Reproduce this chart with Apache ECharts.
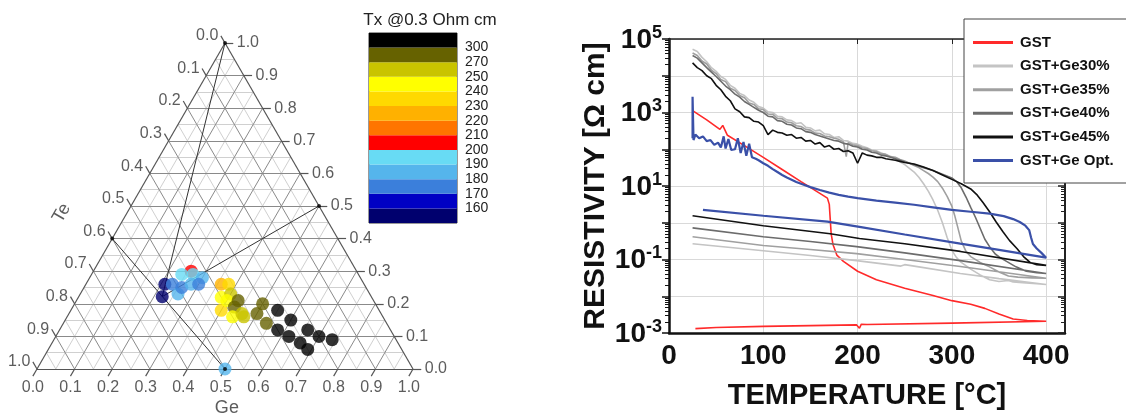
<!DOCTYPE html>
<html><head><meta charset="utf-8">
<script src="https://cdn.jsdelivr.net/npm/echarts@6/dist/echarts.min.js"></script>
<style>html,body{margin:0;padding:0;background:#fff}#c{width:1126px;height:416px}</style>
</head><body><div id="c"></div>
<script>
// ================= DATA =================
// --- Ternary diagram (fractions of Ge and Te; Sb = 1 - Ge - Te), Tx in °C
const ternGe = [0.26,0.21,0.222,0.23,0.24,0.26,0.26,0.27,0.30,0.28,0.30,0.50,
                0.36,0.38,0.38,0.40,0.40,0.40,0.43,0.43,0.44,0.46,0.47,
                0.50,0.50,0.54,
                0.55,0.60,0.58,0.62,0.66,0.70,0.66,0.69,0.74];
const ternTe = [0.44,0.53,0.556,0.51,0.47,0.51,0.49,0.44,0.42,0.46,0.44,0.50,
                0.38,0.36,0.40,0.42,0.37,0.39,0.36,0.38,0.40,0.37,0.37,
                0.30,0.33,0.32,
                0.27,0.25,0.30,0.28,0.22,0.20,0.26,0.25,0.17];
const ternTx = [205,155,155,175,195,185,175,195,185,185,175,185,
                225,235,245,235,260,245,285,285,245,260,260,
                285,285,285,
                320,320,320,320,320,320,320,320,320];
// reference compounds: Sb, Sb2Te3, GeSb, GeTe
const refGe = [0, 0, 0.5, 0.5];
const refTe = [0, 0.6, 0, 0.5];
// GST (Ge2Sb2Te5)
const gstGe = 0.222, gstTe = 0.556;
const ternTicks = ['0.0','0.1','0.2','0.3','0.4','0.5','0.6','0.7','0.8','0.9','1.0'];
// colour bar
const cbLabels = ['160','170','180','190','200','210','220','230','240','250','270','300'];
const cbColors = ['#00006e','#0000c4','#3b7fdb','#55b5ec','#68dbf4','#ff0000','#ff7500','#ffb100','#ffd900','#ffff00','#c9c400','#666200','#000000'];

// --- Resistivity vs temperature: [T (°C), log10(resistivity / Ohm cm)]
const gstCurve = [[25,3.05],[40,2.80],[54,2.54],[57,2.65],[62,2.38],[80,2.10],[100,1.78],[120,1.45],[140,1.12],[160,0.80],[168,0.67],
  [170,0.50],[171,0.10],[172,-0.30],[174,-0.60],[178,-0.88],[185,-1.05],[200,-1.32],[220,-1.55],[250,-1.78],[280,-1.98],[300,-2.12],
  [320,-2.22],[335,-2.33],[350,-2.48],[365,-2.62],[380,-2.66],[400,-2.68],
  [300,-2.73],[210,-2.77],[204,-2.76],[202,-2.87],[199,-2.78],[150,-2.80],[100,-2.82],[50,-2.85],[28,-2.88]];
const ge30Curve = [[25,4.72],[30,4.66],[35,4.50],[40,4.38],[45,4.22],[50,4.12],[55,3.98],[60,3.90],[65,3.74],[70,3.66],[75,3.52],[80,3.46],
  [85,3.34],[90,3.28],[95,3.16],[100,3.12],[105,3.02],[110,3.00],[115,2.90],[120,2.88],[125,2.80],[130,2.78],[135,2.70],[140,2.72],
  [145,2.60],[150,2.58],[155,2.50],[160,2.52],[165,2.42],[170,2.40],[175,2.32],[180,2.34],[185,2.24],[190,2.22],[195,2.16],[200,2.14],
  [205,2.08],[210,2.04],[215,1.98],[220,1.96],[225,1.90],[230,1.86],[235,1.80],[240,1.74],[245,1.66],[250,1.58],
  [255,1.48],[260,1.38],[265,1.24],[270,1.06],[275,0.86],[280,0.62],[285,0.34],[290,0.00],[295,-0.40],[300,-0.75],[305,-0.95],
  [310,-1.08],[320,-1.26],[330,-1.42],[340,-1.55],[350,-1.60],[360,-1.57],[365,-1.61],[375,-1.63],[390,-1.66],[400,-1.68],
  [350,-1.52],[309,-1.38],[265,-1.20],[250,-1.14],[246,-1.18],[199,-1.03],[150,-0.89],[100,-0.76],[60,-0.66],[25,-0.57]];
const ge35Curve = [[25,4.62],[30,4.55],[35,4.40],[40,4.32],[45,4.15],[50,4.06],[55,3.90],[60,3.84],[65,3.66],[70,3.60],[75,3.46],[80,3.40],
  [85,3.26],[90,3.22],[95,3.10],[100,3.08],[105,2.96],[110,2.95],[115,2.84],[120,2.83],[125,2.74],[130,2.72],[135,2.64],[140,2.62],
  [145,2.54],[150,2.52],[155,2.44],[160,2.43],[165,2.36],[170,2.34],[175,2.30],[180,2.27],[185,2.20],[188,1.80],[190,2.18],[195,2.12],[200,2.10],
  [205,2.04],[210,2.02],[215,1.96],[220,1.94],[225,1.88],[230,1.86],[235,1.80],[240,1.78],[245,1.72],[250,1.68],
  [255,1.62],[260,1.56],[265,1.50],[270,1.42],[275,1.34],[280,1.24],[285,1.12],[290,0.94],[295,0.72],[300,0.45],[303,0.20],[306,-0.10],
  [310,-0.50],[315,-0.78],[320,-0.92],[330,-1.08],[340,-1.20],[350,-1.34],[360,-1.45],[370,-1.48],[385,-1.50],[400,-1.51],
  [309,-1.19],[250,-1.00],[199,-0.84],[150,-0.73],[100,-0.62],[25,-0.38]];
const ge40Curve = [[25,4.55],[30,4.48],[35,4.35],[40,4.22],[45,4.10],[50,3.98],[55,3.85],[60,3.72],[65,3.62],[70,3.50],[75,3.42],[80,3.30],
  [85,3.22],[90,3.14],[95,3.06],[100,3.00],[105,2.90],[110,2.88],[115,2.78],[120,2.76],[125,2.68],[130,2.66],[135,2.58],[140,2.56],
  [145,2.48],[150,2.46],[155,2.40],[160,2.36],[165,2.32],[170,2.28],[175,2.24],[180,2.22],[185,2.16],[190,2.14],[195,2.08],[200,2.06],
  [205,2.00],[210,1.98],[215,1.92],[220,1.90],[225,1.84],[230,1.82],[235,1.78],[240,1.74],[245,1.70],[250,1.66],
  [255,1.62],[260,1.58],[270,1.50],[280,1.42],[290,1.32],[300,1.22],[305,1.12],[310,0.95],[315,0.70],[320,0.42],[325,0.15],[330,-0.15],
  [335,-0.45],[340,-0.65],[346,-0.85],[352,-0.96],[358,-1.05],[368,-1.20],[379,-1.32],[390,-1.36],[400,-1.38],
  [309,-1.03],[250,-0.82],[199,-0.65],[150,-0.51],[100,-0.38],[25,-0.14]];
const ge45Curve = [[25,4.35],[30,4.22],[35,4.14],[40,4.00],[45,3.92],[50,3.74],[55,3.62],[60,3.44],[65,3.32],[70,3.10],[75,3.02],[80,2.88],
  [85,2.86],[90,2.76],[95,2.74],[100,2.64],[105,2.40],[110,2.52],[115,2.46],[120,2.44],[125,2.38],[130,2.40],[135,2.30],[140,2.32],
  [145,2.22],[150,2.24],[155,2.14],[160,2.18],[165,2.06],[170,2.10],[175,2.00],[180,2.02],[185,1.94],[190,1.96],[195,1.90],[200,1.62],
  [205,1.90],[210,1.84],[215,1.82],[220,1.78],[225,1.78],[230,1.74],[235,1.72],[240,1.70],[245,1.67],[250,1.64],
  [255,1.62],[260,1.60],[270,1.52],[280,1.42],[290,1.30],[300,1.18],[310,1.06],[320,0.92],[327,0.75],[333,0.55],[340,0.30],[347,0.02],
  [354,-0.24],[361,-0.48],[369,-0.70],[376,-0.92],[383,-1.08],[390,-1.14],[400,-1.16],
  [309,-0.78],[250,-0.57],[202,-0.43],[171,-0.30],[100,-0.08],[25,0.19]];
const optCurve = [[25,2.30],[25,3.43],[26,2.25],[28,2.40],[32,2.30],[36,2.35],[40,2.22],[44,2.25],[48,2.12],[52,2.18],[55,2.05],[58,2.35],
  [60,2.02],[63,2.28],[66,1.98],[70,2.00],[73,2.30],[76,1.90],[79,2.20],[82,1.82],[85,2.15],[88,1.78],[92,1.74],[95,1.70],[100,1.62],
  [105,1.55],[110,1.46],[115,1.38],[120,1.30],[125,1.23],[130,1.17],[135,1.11],[140,1.06],[150,0.97],[160,0.89],[170,0.82],[180,0.76],
  [190,0.71],[200,0.67],[220,0.60],[240,0.55],[260,0.49],[280,0.42],[300,0.35],[320,0.30],[340,0.25],[355,0.18],[365,0.10],[372,0.02],
  [378,-0.08],[382,-0.20],[384,-0.40],[386,-0.58],[390,-0.70],[395,-0.82],[400,-0.95],
  [350,-0.74],[309,-0.57],[250,-0.32],[202,-0.11],[168,0.03],[100,0.19],[36,0.35]];
const curveNames = ['GST','GST+Ge30%','GST+Ge35%','GST+Ge40%','GST+Ge45%','GST+Ge Opt.'];
const curveColors = ['#ff2a2a','#c4c4c4','#a0a0a0','#6c6c6c','#111111','#3a50a8'];
const curves = [gstCurve, ge30Curve, ge35Curve, ge40Curve, ge45Curve, optCurve];
const xTicks = [0,100,200,300,400];

// ================= BUILD =================
const FONT = '"Liberation Sans", Arial, sans-serif';
const H = Math.sqrt(3) / 2;
function tp(ge, te) { const sb = 1 - ge - te; return [ge + sb / 2, sb * H]; }
const TG = {xAxisIndex: 0, yAxisIndex: 0};

const minorLines = [], majorLines = [];
for (let i = 1; i < 20; i++) {
  const v = i / 20, arr = (i % 2 === 0) ? majorLines : minorLines;
  arr.push({coords: [tp(0, 1 - v), tp(1 - v, 0)]});
  arr.push({coords: [tp(v, 1 - v), tp(v, 0)]});
  arr.push({coords: [tp(1 - v, v), tp(0, v)]});
}
const edges = [{coords: [tp(0, 1), tp(1, 0)]}, {coords: [tp(1, 0), tp(0, 0)]}, {coords: [tp(0, 0), tp(0, 1)]}];
const L = 0.022;
const tickLines = [], bLab = [], lLab = [], rLab = [];
ternTicks.forEach((t, k) => {
  const v = k / 10;
  let p = tp(v, 1 - v), e = [p[0] - 0.5 * L, p[1] - H * L];
  tickLines.push({coords: [p, e]}); bLab.push({value: e, name: t});
  p = tp(0, v); e = [p[0] - 0.5 * L, p[1] + H * L];
  tickLines.push({coords: [p, e]}); lLab.push({value: e, name: t});
  p = tp(1 - v, 0); e = [p[0] + L, p[1]];
  tickLines.push({coords: [p, e]}); rLab.push({value: e, name: t});
});
const tieLines = [
  {coords: [tp(refGe[1], refTe[1]), tp(refGe[3], refTe[3])]},
  {coords: [tp(refGe[0], refTe[0]), tp(gstGe, gstTe)]},
  {coords: [tp(refGe[2], refTe[2]), tp(gstGe, gstTe)]}
];
const thr = cbLabels.map(Number);
function txColor(tx) { let i = 0; while (i < thr.length && tx >= thr[i]) i++; return cbColors[i]; }
const ternPts = ternGe.map((g, i) => ({value: tp(g, ternTe[i]), itemStyle: {color: txColor(ternTx[i])}}));
const refPts = refGe.map((g, i) => tp(g, refTe[i]));
const teAnchor = tp(0, 0.5), geAnchor = tp(0.5, 0.5);

function labelSeries(data, pos, dist) {
  return Object.assign({type: 'scatter', symbolSize: 1, clip: false, itemStyle: {color: 'rgba(0,0,0,0)'}, silent: true, z: 5,
    labelLayout: {hideOverlap: false},
    label: {show: true, position: pos, distance: dist, formatter: p => p.name, color: '#333', fontSize: 16, fontFamily: FONT},
    data: data}, TG);
}
function lineSeries(data, color, width, z) {
  return Object.assign({type: 'lines', coordinateSystem: 'cartesian2d', polyline: false, silent: true, clip: false, z: z,
    lineStyle: {color: color, width: width, opacity: 1}, data: data}, TG);
}

const series = [
  lineSeries(minorLines, '#d0d0d0', 1, 1),
  lineSeries(majorLines, '#8a8a8a', 1, 2),
  lineSeries(edges, '#555', 1.2, 3),
  lineSeries(tickLines, '#555', 1.2, 3),
  lineSeries(tieLines, '#333', 1, 4),
  labelSeries(bLab, 'bottom', 3),
  labelSeries(lLab, 'left', 2),
  labelSeries(rLab, 'right', 3),
  Object.assign({type: 'scatter', symbolSize: 1, clip: false, itemStyle: {color: 'rgba(0,0,0,0)'}, silent: true,
    label: {show: true, position: 'inside', formatter: p => p.name, color: '#333', fontSize: 18, fontFamily: FONT},
    data: [{value: [teAnchor[0] - 0.184, teAnchor[1] - 0.019], name: 'Te', label: {rotate: 60}},
           {value: [geAnchor[0] + 0.005, geAnchor[1] - 0.104], name: 'Ge'}]}, TG),
  Object.assign({type: 'scatter', symbolSize: 13, z: 6, silent: true, clip: false, data: ternPts}, TG),
  Object.assign({type: 'scatter', symbolSize: 4, z: 7, silent: true, clip: false, itemStyle: {color: '#000'}, data: refPts}, TG),
  {type: 'custom', xAxisIndex: 3, yAxisIndex: 3, silent: true, data: cbColors.map((c, i) => [0, i]),
    renderItem: function (params, api) {
      const i = api.value(1), p0 = api.coord([0, i]), p1 = api.coord([1, i + 1]);
      return {type: 'rect', shape: {x: p0[0], y: p1[1], width: p1[0] - p0[0], height: p0[1] - p1[1]}, style: {fill: cbColors[i]}};
    }}
];
curves.forEach((c, i) => {
  series.push({type: 'line', name: curveNames[i], xAxisIndex: 1, yAxisIndex: 1, showSymbol: false, symbol: 'none', z: 3 + i,
    lineStyle: {color: curveColors[i], width: i === 5 ? 2.2 : 1.6}, itemStyle: {color: curveColors[i]},
    data: c.map(d => [d[0], Math.pow(10, d[1])])});
});

const boldTxt = {fontFamily: FONT, fontWeight: 'bold', color: '#111'};
const option = {
  animation: false,
  backgroundColor: '#fff',
  title: {text: 'Tx @0.3 Ohm cm', left: 425, top: 7, textAlign: 'center',
    textStyle: {fontFamily: FONT, fontWeight: 'normal', fontSize: 17, color: '#222'}},
  legend: {left: 964, top: 19, orient: 'vertical', z: 20, icon: 'rect', itemWidth: 40, itemHeight: 3, itemGap: 8.6,
    padding: [16, 40, 15, 9], backgroundColor: '#fff', borderColor: '#444', borderWidth: 1,
    data: curveNames,
    textStyle: {fontFamily: FONT, fontWeight: 'bold', fontSize: 15, color: '#111', lineHeight: 14, padding: [0, 0, 0, 2]}},
  grid: [
    {left: 37, width: 376, top: 43, height: 326},
    {left: 669, right: 61, top: 39, bottom: 83},
    {left: 369, width: 88, top: 33, height: 190, show: true, borderColor: '#333', borderWidth: 1, backgroundColor: 'transparent'}
  ],
  xAxis: [
    {gridIndex: 0, type: 'value', min: 0, max: 1, show: false},
    {gridIndex: 1, type: 'value', min: 0, max: 420, interval: 100,
      axisLine: {onZero: false, lineStyle: {color: '#111', width: 2.5}}, axisTick: {show: false},
      axisLabel: Object.assign({fontSize: 28, margin: 9, formatter: v => xTicks.indexOf(v) >= 0 ? String(v) : ''}, boldTxt),
      splitLine: {show: true, lineStyle: {color: '#d9d9d9', width: 1}},
      name: 'TEMPERATURE [°C]', nameLocation: 'middle', nameGap: 48, nameTextStyle: Object.assign({fontSize: 29}, boldTxt)},
    {gridIndex: 1, type: 'value', position: 'top', min: 0, max: 420, interval: 100,
      axisLine: {onZero: false, lineStyle: {color: '#222', width: 1.5}}, axisTick: {show: true, inside: true, length: 5, lineStyle: {color: '#222'}},
      axisLabel: {show: false}, splitLine: {show: false}},
    {gridIndex: 2, type: 'value', min: 0, max: 1, show: false}
  ],
  yAxis: [
    {gridIndex: 0, type: 'value', min: 0, max: H, show: false},
    {gridIndex: 1, type: 'log', logBase: 10, min: 1e-3, max: 1e5, splitNumber: 8,
      axisLine: {show: true, onZero: false, lineStyle: {color: '#111', width: 2.5}},
      axisTick: {show: true, length: 7, lineStyle: {color: '#111', width: 1.5}},
      minorTick: {show: true, splitNumber: 9, length: 4, lineStyle: {color: '#111', width: 1}},
      splitLine: {show: true, lineStyle: {color: '#d9d9d9', width: 1}},
      axisLabel: {margin: 7, formatter: function (v) {
          const e = Math.round(Math.log10(v));
          if (e % 2 === 0) return '';
          return '{b|10}{s|' + e + '}';
        },
        rich: {b: Object.assign({fontSize: 28, lineHeight: 30, verticalAlign: 'bottom'}, boldTxt),
               s: Object.assign({fontSize: 18, lineHeight: 18, verticalAlign: 'top'}, boldTxt)}},
      name: 'RESISTIVITY [Ω cm]', nameLocation: 'middle', nameGap: 51, nameTextStyle: Object.assign({fontSize: 30}, boldTxt)},
    {gridIndex: 1, type: 'log', logBase: 10, min: 1e-3, max: 1e5, splitNumber: 8, position: 'right',
      axisLine: {show: true, onZero: false, lineStyle: {color: '#222', width: 2}},
      axisTick: {show: true, inside: true, length: 7, lineStyle: {color: '#222', width: 1.5}},
      minorTick: {show: true, splitNumber: 9, length: 4, lineStyle: {color: '#222', width: 1}},
      axisLabel: {show: false}, splitLine: {show: false}},
    {gridIndex: 2, type: 'value', min: 0, max: 13, interval: 1, position: 'right',
      axisLine: {show: false}, axisTick: {show: false}, splitLine: {show: false},
      axisLabel: {margin: 8, fontSize: 14, color: '#222', fontFamily: FONT, padding: [7, 0, 0, 0],
        formatter: v => (v >= 1 && v <= 12) ? cbLabels[v - 1] : ''}}
  ],
  series: series
};
echarts.init(document.getElementById('c'), null, {renderer: 'canvas'}).setOption(option);
</script>
</body></html>
